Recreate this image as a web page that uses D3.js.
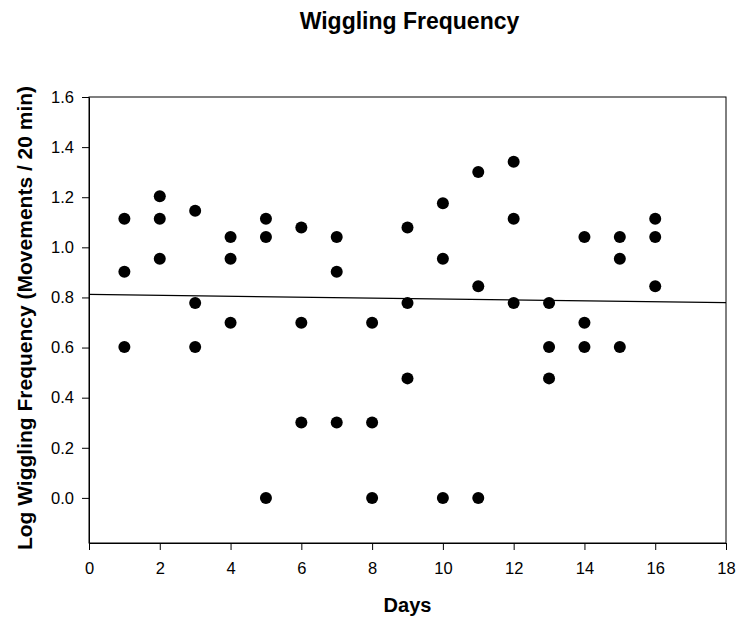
<!DOCTYPE html>
<html>
<head>
<meta charset="utf-8">
<script src="https://cdn.jsdelivr.net/npm/d3@7"></script>
<style>
body { margin: 0; background: #fff; }
text { font-family: "Liberation Sans", Arial, sans-serif; }
</style>
</head>
<body>
<div id="chart"></div>
<script>
const width = 738
const height = 619
const margin = { top: 97, bottom: 76, left: 89, right: 12 }

// data: log10 of movements per 20 min, three animals per day
const days = [1,1,1, 2,2,2, 3,3,3, 4,4,4, 5,5,5, 6,6,6, 7,7,7, 8,8,8,
              9,9,9, 10,10,10, 11,11,11, 12,12,12, 13,13,13, 14,14,14, 15,15,15, 16,16,16]
const logFreq = [1.114,0.903,0.602, 1.204,1.114,0.954, 1.146,0.778,0.602, 1.041,0.954,0.699,
                 1.114,1.041,0.000, 1.079,0.699,0.301, 1.041,0.903,0.301, 0.699,0.301,0.000,
                 1.079,0.778,0.477, 1.176,0.954,0.000, 1.301,0.845,0.000, 1.342,1.114,0.778,
                 0.778,0.602,0.477, 1.041,0.699,0.602, 1.041,0.954,0.602, 1.114,1.041,0.845]
const xTicks = [0,2,4,6,8,10,12,14,16,18]
const yTicks = [0,0.2,0.4,0.6,0.8,1.0,1.2,1.4,1.6]

const data = days.map((d,i) => ({day: d, value: logFreq[i]}))

const w = width - margin.left - margin.right
const h = height - margin.top - margin.bottom

const svg = d3.select("div#chart").append("svg").attr("width", width).attr("height", height)
const g = svg.append("g").attr("transform", `translate(${margin.left}, ${margin.top})`)

const x = d3.scaleLinear().domain([0,18]).range([0,w])
const y = d3.scaleLinear().domain([-0.18,1.6]).range([h,0])

// frame
g.append("rect").attr("width", w).attr("height", h)
    .attr("fill", "none").attr("stroke", "#000").attr("stroke-width", 1)

const xAxis = d3.axisBottom(x).tickValues(xTicks).tickSize(7).tickSizeOuter(0).tickPadding(12).tickFormat(d3.format("d"))
const yAxis = d3.axisLeft(y).tickValues(yTicks).tickSize(7).tickSizeOuter(0).tickPadding(8).tickFormat(d3.format(".1f"))

const xg = g.append("g").attr("transform", `translate(0, ${h})`).call(xAxis)
const yg = g.append("g").call(yAxis)
for (const ag of [xg, yg]) {
    ag.select(".domain").attr("stroke", "#000")
    ag.selectAll(".tick line").attr("stroke", "#000")
    ag.selectAll(".tick text").attr("fill", "#000").style("font-size", "16.5px")
        .style("font-family", "'Liberation Sans', Arial, sans-serif")
}

// least squares fit
const mx = d3.mean(data, d => d.day)
const my = d3.mean(data, d => d.value)
const slope = d3.sum(data, d => (d.day - mx) * (d.value - my)) / d3.sum(data, d => (d.day - mx) ** 2)
const icpt = my - slope * mx
g.append("line")
    .attr("x1", x(0)).attr("y1", y(icpt))
    .attr("x2", x(18)).attr("y2", y(icpt + slope * 18))
    .attr("stroke", "#000").attr("stroke-width", 1.2)

g.selectAll("circle").data(data).enter()
    .append("circle")
    .attr("cx", d => x(d.day))
    .attr("cy", d => y(d.value))
    .attr("r", 6)
    .attr("fill", "#000")

svg.append("text").attr("x", margin.left + w / 2 + 2).attr("y", 29)
    .attr("text-anchor", "middle").style("font-size", "23px").style("font-weight", "bold")
    .text("Wiggling Frequency")

svg.append("text").attr("x", margin.left + w / 2).attr("y", 612)
    .attr("text-anchor", "middle").style("font-size", "20px").style("font-weight", "bold")
    .text("Days")

svg.append("text")
    .attr("transform", `translate(32, 318) rotate(-90)`)
    .attr("text-anchor", "middle").style("font-size", "21px").style("font-weight", "bold")
    .text("Log Wiggling Frequency (Movements / 20 min)")
</script>
</body>
</html>
